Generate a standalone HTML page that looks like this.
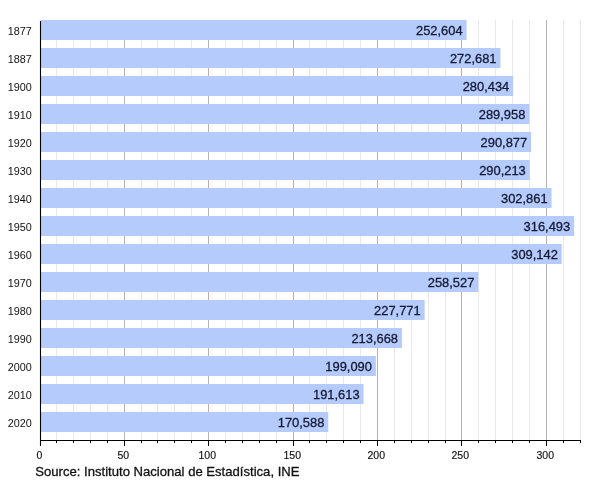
<!DOCTYPE html><html><head><meta charset="utf-8"><style>html,body{margin:0;padding:0;background:#fff;width:600px;height:480px;overflow:hidden}svg{display:block}text{filter:saturate(1.0001)}</style></head><body>
<svg width="600" height="480" viewBox="0 0 600 480" font-family='"Liberation Sans", sans-serif'>
<rect width="600" height="480" fill="#fff"/>
<line x1="56.5" y1="20" x2="56.5" y2="440" stroke="#e9e9e9" stroke-width="1"/>
<line x1="73.5" y1="20" x2="73.5" y2="440" stroke="#e9e9e9" stroke-width="1"/>
<line x1="90.5" y1="20" x2="90.5" y2="440" stroke="#e9e9e9" stroke-width="1"/>
<line x1="107.5" y1="20" x2="107.5" y2="440" stroke="#e9e9e9" stroke-width="1"/>
<line x1="124.5" y1="20" x2="124.5" y2="440" stroke="#b3b3b3" stroke-width="1"/>
<line x1="141.5" y1="20" x2="141.5" y2="440" stroke="#e9e9e9" stroke-width="1"/>
<line x1="157.5" y1="20" x2="157.5" y2="440" stroke="#e9e9e9" stroke-width="1"/>
<line x1="174.5" y1="20" x2="174.5" y2="440" stroke="#e9e9e9" stroke-width="1"/>
<line x1="191.5" y1="20" x2="191.5" y2="440" stroke="#e9e9e9" stroke-width="1"/>
<line x1="208.5" y1="20" x2="208.5" y2="440" stroke="#b3b3b3" stroke-width="1"/>
<line x1="225.5" y1="20" x2="225.5" y2="440" stroke="#e9e9e9" stroke-width="1"/>
<line x1="242.5" y1="20" x2="242.5" y2="440" stroke="#e9e9e9" stroke-width="1"/>
<line x1="259.5" y1="20" x2="259.5" y2="440" stroke="#e9e9e9" stroke-width="1"/>
<line x1="276.5" y1="20" x2="276.5" y2="440" stroke="#e9e9e9" stroke-width="1"/>
<line x1="293.5" y1="20" x2="293.5" y2="440" stroke="#b3b3b3" stroke-width="1"/>
<line x1="309.5" y1="20" x2="309.5" y2="440" stroke="#e9e9e9" stroke-width="1"/>
<line x1="326.5" y1="20" x2="326.5" y2="440" stroke="#e9e9e9" stroke-width="1"/>
<line x1="343.5" y1="20" x2="343.5" y2="440" stroke="#e9e9e9" stroke-width="1"/>
<line x1="360.5" y1="20" x2="360.5" y2="440" stroke="#e9e9e9" stroke-width="1"/>
<line x1="377.5" y1="20" x2="377.5" y2="440" stroke="#b3b3b3" stroke-width="1"/>
<line x1="394.5" y1="20" x2="394.5" y2="440" stroke="#e9e9e9" stroke-width="1"/>
<line x1="411.5" y1="20" x2="411.5" y2="440" stroke="#e9e9e9" stroke-width="1"/>
<line x1="428.5" y1="20" x2="428.5" y2="440" stroke="#e9e9e9" stroke-width="1"/>
<line x1="445.5" y1="20" x2="445.5" y2="440" stroke="#e9e9e9" stroke-width="1"/>
<line x1="461.5" y1="20" x2="461.5" y2="440" stroke="#b3b3b3" stroke-width="1"/>
<line x1="478.5" y1="20" x2="478.5" y2="440" stroke="#e9e9e9" stroke-width="1"/>
<line x1="495.5" y1="20" x2="495.5" y2="440" stroke="#e9e9e9" stroke-width="1"/>
<line x1="512.5" y1="20" x2="512.5" y2="440" stroke="#e9e9e9" stroke-width="1"/>
<line x1="529.5" y1="20" x2="529.5" y2="440" stroke="#e9e9e9" stroke-width="1"/>
<line x1="546.5" y1="20" x2="546.5" y2="440" stroke="#b3b3b3" stroke-width="1"/>
<line x1="563.5" y1="20" x2="563.5" y2="440" stroke="#e9e9e9" stroke-width="1"/>
<line x1="580.5" y1="20" x2="580.5" y2="440" stroke="#e9e9e9" stroke-width="1"/>
<rect x="41" y="20" width="425.51" height="20" fill="#b4cbfb"/>
<text x="462.61" y="34.9" font-size="12.9" fill="#141832" stroke="#141832" stroke-width="0.3" text-anchor="end">252,604</text>
<text x="31.9" y="34.9" font-size="10.8" fill="#111" stroke="none" text-anchor="end">1877</text>
<rect x="41" y="48" width="459.41" height="20" fill="#b4cbfb"/>
<text x="496.51" y="62.9" font-size="12.9" fill="#141832" stroke="#141832" stroke-width="0.3" text-anchor="end">272,681</text>
<text x="31.9" y="62.9" font-size="10.8" fill="#111" stroke="none" text-anchor="end">1887</text>
<rect x="41" y="76" width="472.16" height="20" fill="#b4cbfb"/>
<text x="509.26" y="90.9" font-size="12.9" fill="#141832" stroke="#141832" stroke-width="0.3" text-anchor="end">280,434</text>
<text x="31.9" y="90.9" font-size="10.8" fill="#111" stroke="none" text-anchor="end">1900</text>
<rect x="41" y="104" width="488.30" height="20" fill="#b4cbfb"/>
<text x="525.40" y="118.9" font-size="12.9" fill="#141832" stroke="#141832" stroke-width="0.3" text-anchor="end">289,958</text>
<text x="31.9" y="118.9" font-size="10.8" fill="#111" stroke="none" text-anchor="end">1910</text>
<rect x="41" y="132" width="490.12" height="20" fill="#b4cbfb"/>
<text x="527.22" y="146.9" font-size="12.9" fill="#141832" stroke="#141832" stroke-width="0.3" text-anchor="end">290,877</text>
<text x="31.9" y="146.9" font-size="10.8" fill="#111" stroke="none" text-anchor="end">1920</text>
<rect x="41" y="160" width="488.66" height="20" fill="#b4cbfb"/>
<text x="525.76" y="174.9" font-size="12.9" fill="#141832" stroke="#141832" stroke-width="0.3" text-anchor="end">290,213</text>
<text x="31.9" y="174.9" font-size="10.8" fill="#111" stroke="none" text-anchor="end">1930</text>
<rect x="41" y="188" width="510.49" height="20" fill="#b4cbfb"/>
<text x="547.59" y="202.9" font-size="12.9" fill="#141832" stroke="#141832" stroke-width="0.3" text-anchor="end">302,861</text>
<text x="31.9" y="202.9" font-size="10.8" fill="#111" stroke="none" text-anchor="end">1940</text>
<rect x="41" y="216" width="533.10" height="20" fill="#b4cbfb"/>
<text x="570.20" y="230.9" font-size="12.9" fill="#141832" stroke="#141832" stroke-width="0.3" text-anchor="end">316,493</text>
<text x="31.9" y="230.9" font-size="10.8" fill="#111" stroke="none" text-anchor="end">1950</text>
<rect x="41" y="244" width="520.74" height="20" fill="#b4cbfb"/>
<text x="557.84" y="258.9" font-size="12.9" fill="#141832" stroke="#141832" stroke-width="0.3" text-anchor="end">309,142</text>
<text x="31.9" y="258.9" font-size="10.8" fill="#111" stroke="none" text-anchor="end">1960</text>
<rect x="41" y="272" width="437.30" height="20" fill="#b4cbfb"/>
<text x="474.40" y="286.9" font-size="12.9" fill="#141832" stroke="#141832" stroke-width="0.3" text-anchor="end">258,527</text>
<text x="31.9" y="286.9" font-size="10.8" fill="#111" stroke="none" text-anchor="end">1970</text>
<rect x="41" y="300" width="383.60" height="20" fill="#b4cbfb"/>
<text x="420.70" y="314.9" font-size="12.9" fill="#141832" stroke="#141832" stroke-width="0.3" text-anchor="end">227,771</text>
<text x="31.9" y="314.9" font-size="10.8" fill="#111" stroke="none" text-anchor="end">1980</text>
<rect x="41" y="328" width="360.90" height="20" fill="#b4cbfb"/>
<text x="398.00" y="342.9" font-size="12.9" fill="#141832" stroke="#141832" stroke-width="0.3" text-anchor="end">213,668</text>
<text x="31.9" y="342.9" font-size="10.8" fill="#111" stroke="none" text-anchor="end">1990</text>
<rect x="41" y="356" width="334.88" height="20" fill="#b4cbfb"/>
<text x="371.98" y="370.9" font-size="12.9" fill="#141832" stroke="#141832" stroke-width="0.3" text-anchor="end">199,090</text>
<text x="31.9" y="370.9" font-size="10.8" fill="#111" stroke="none" text-anchor="end">2000</text>
<rect x="41" y="384" width="322.52" height="20" fill="#b4cbfb"/>
<text x="359.62" y="398.9" font-size="12.9" fill="#141832" stroke="#141832" stroke-width="0.3" text-anchor="end">191,613</text>
<text x="31.9" y="398.9" font-size="10.8" fill="#111" stroke="none" text-anchor="end">2010</text>
<rect x="41" y="412" width="287.27" height="20" fill="#b4cbfb"/>
<text x="324.37" y="426.9" font-size="12.9" fill="#141832" stroke="#141832" stroke-width="0.3" text-anchor="end">170,588</text>
<text x="31.9" y="426.9" font-size="10.8" fill="#111" stroke="none" text-anchor="end">2020</text>
<line x1="40.5" y1="21" x2="40.5" y2="446" stroke="#000" stroke-width="1.1"/>
<line x1="40" y1="440.5" x2="581" y2="440.5" stroke="#000" stroke-width="1.1"/>
<line x1="40.5" y1="440" x2="40.5" y2="446" stroke="#000" stroke-width="1"/>
<text x="39.3" y="459" font-size="10.5" fill="#111" stroke="#111" stroke-width="0.15" text-anchor="middle">0</text>
<line x1="56.5" y1="440" x2="56.5" y2="443" stroke="#000" stroke-width="1"/>
<line x1="73.5" y1="440" x2="73.5" y2="443" stroke="#000" stroke-width="1"/>
<line x1="90.5" y1="440" x2="90.5" y2="443" stroke="#000" stroke-width="1"/>
<line x1="107.5" y1="440" x2="107.5" y2="443" stroke="#000" stroke-width="1"/>
<line x1="124.5" y1="440" x2="124.5" y2="446" stroke="#000" stroke-width="1"/>
<text x="123.3" y="459" font-size="10.5" fill="#111" stroke="#111" stroke-width="0.15" text-anchor="middle">50</text>
<line x1="141.5" y1="440" x2="141.5" y2="443" stroke="#000" stroke-width="1"/>
<line x1="157.5" y1="440" x2="157.5" y2="443" stroke="#000" stroke-width="1"/>
<line x1="174.5" y1="440" x2="174.5" y2="443" stroke="#000" stroke-width="1"/>
<line x1="191.5" y1="440" x2="191.5" y2="443" stroke="#000" stroke-width="1"/>
<line x1="208.5" y1="440" x2="208.5" y2="446" stroke="#000" stroke-width="1"/>
<text x="207.3" y="459" font-size="10.5" fill="#111" stroke="#111" stroke-width="0.15" text-anchor="middle">100</text>
<line x1="225.5" y1="440" x2="225.5" y2="443" stroke="#000" stroke-width="1"/>
<line x1="242.5" y1="440" x2="242.5" y2="443" stroke="#000" stroke-width="1"/>
<line x1="259.5" y1="440" x2="259.5" y2="443" stroke="#000" stroke-width="1"/>
<line x1="276.5" y1="440" x2="276.5" y2="443" stroke="#000" stroke-width="1"/>
<line x1="293.5" y1="440" x2="293.5" y2="446" stroke="#000" stroke-width="1"/>
<text x="292.3" y="459" font-size="10.5" fill="#111" stroke="#111" stroke-width="0.15" text-anchor="middle">150</text>
<line x1="309.5" y1="440" x2="309.5" y2="443" stroke="#000" stroke-width="1"/>
<line x1="326.5" y1="440" x2="326.5" y2="443" stroke="#000" stroke-width="1"/>
<line x1="343.5" y1="440" x2="343.5" y2="443" stroke="#000" stroke-width="1"/>
<line x1="360.5" y1="440" x2="360.5" y2="443" stroke="#000" stroke-width="1"/>
<line x1="377.5" y1="440" x2="377.5" y2="446" stroke="#000" stroke-width="1"/>
<text x="376.3" y="459" font-size="10.5" fill="#111" stroke="#111" stroke-width="0.15" text-anchor="middle">200</text>
<line x1="394.5" y1="440" x2="394.5" y2="443" stroke="#000" stroke-width="1"/>
<line x1="411.5" y1="440" x2="411.5" y2="443" stroke="#000" stroke-width="1"/>
<line x1="428.5" y1="440" x2="428.5" y2="443" stroke="#000" stroke-width="1"/>
<line x1="445.5" y1="440" x2="445.5" y2="443" stroke="#000" stroke-width="1"/>
<line x1="461.5" y1="440" x2="461.5" y2="446" stroke="#000" stroke-width="1"/>
<text x="460.3" y="459" font-size="10.5" fill="#111" stroke="#111" stroke-width="0.15" text-anchor="middle">250</text>
<line x1="478.5" y1="440" x2="478.5" y2="443" stroke="#000" stroke-width="1"/>
<line x1="495.5" y1="440" x2="495.5" y2="443" stroke="#000" stroke-width="1"/>
<line x1="512.5" y1="440" x2="512.5" y2="443" stroke="#000" stroke-width="1"/>
<line x1="529.5" y1="440" x2="529.5" y2="443" stroke="#000" stroke-width="1"/>
<line x1="546.5" y1="440" x2="546.5" y2="446" stroke="#000" stroke-width="1"/>
<text x="545.3" y="459" font-size="10.5" fill="#111" stroke="#111" stroke-width="0.15" text-anchor="middle">300</text>
<line x1="563.5" y1="440" x2="563.5" y2="443" stroke="#000" stroke-width="1"/>
<line x1="580.5" y1="440" x2="580.5" y2="443" stroke="#000" stroke-width="1"/>
<text x="35.3" y="476" font-size="13.1" fill="#111" stroke="#111" stroke-width="0.3">Source: Instituto Nacional de Estadística, INE</text>
</svg></body></html>
